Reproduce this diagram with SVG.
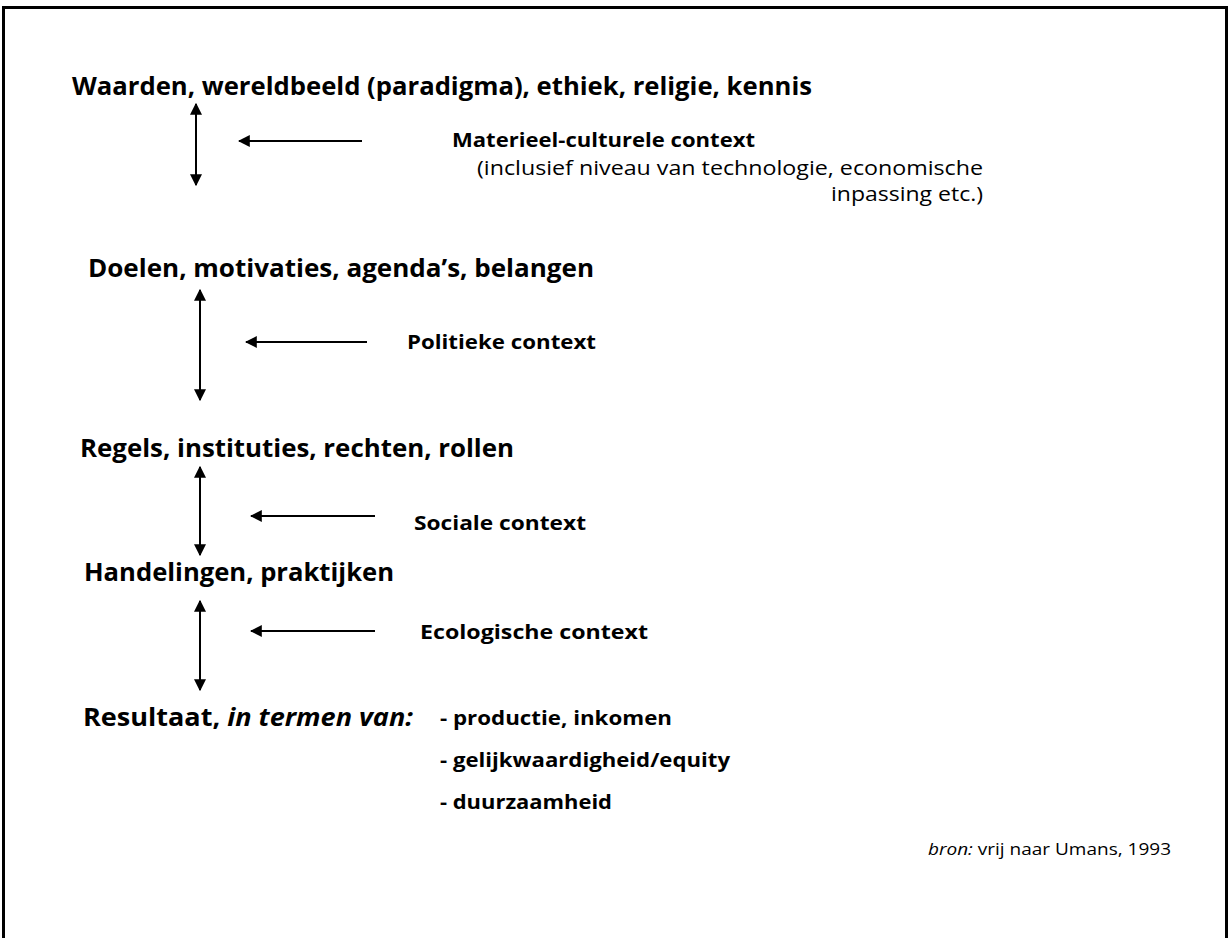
<svg xmlns="http://www.w3.org/2000/svg" width="1231" height="938" viewBox="0 0 1231 938">
<style>
text{font-family:"Open Sans","Noto Sans","Liberation Sans",sans-serif;fill:#000}
.h{font-size:25px;font-weight:bold}
.c{font-size:20px;font-weight:bold}
.n{font-size:20px}
.s{font-size:17px}
.ln{stroke:#000;stroke-width:2;fill:none}
</style>
<defs>
<marker id="ah" viewBox="0 0 10 10" refX="9" refY="5" markerWidth="6" markerHeight="6" orient="auto-start-reverse" markerUnits="strokeWidth">
<path d="M0,0 L10,5 L0,10 z" fill="#000"/>
</marker>
</defs>
<rect x="3.5" y="7.5" width="1223" height="940" fill="#fff" stroke="#000" stroke-width="3"/>

<g id="n-waarden"><text class="h" x="72" y="95" textLength="740" lengthAdjust="spacingAndGlyphs">Waarden, wereldbeeld (paradigma), ethiek, religie, kennis</text></g>
<g id="n-materieel">
<text class="c" x="452" y="147" textLength="303" lengthAdjust="spacingAndGlyphs">Materieel-culturele context</text>
<text class="n" x="477" y="175" textLength="506" lengthAdjust="spacingAndGlyphs">(inclusief niveau van technologie, economische</text>
<text class="n" x="831" y="201" textLength="152" lengthAdjust="spacingAndGlyphs">inpassing etc.)</text>
</g>
<g id="n-doelen"><text class="h" x="88" y="277" textLength="506" lengthAdjust="spacingAndGlyphs">Doelen, motivaties, agenda’s, belangen</text></g>
<g id="n-politiek"><text class="c" x="407" y="349" textLength="189" lengthAdjust="spacingAndGlyphs">Politieke context</text></g>
<g id="n-regels"><text class="h" x="80" y="457" textLength="434" lengthAdjust="spacingAndGlyphs">Regels, instituties, rechten, rollen</text></g>
<g id="n-sociaal"><text class="c" x="414" y="530" textLength="172" lengthAdjust="spacingAndGlyphs">Sociale context</text></g>
<g id="n-handelingen"><text class="h" x="84" y="581" textLength="310" lengthAdjust="spacingAndGlyphs">Handelingen, praktijken</text></g>
<g id="n-ecologisch"><text class="c" x="420" y="639" textLength="228" lengthAdjust="spacingAndGlyphs">Ecologische context</text></g>
<g id="n-resultaat">
<text class="h" x="83" y="726" textLength="330" lengthAdjust="spacingAndGlyphs">Resultaat, <tspan font-style="italic">in termen van:</tspan></text>
<text class="c" x="440" y="725" textLength="232" lengthAdjust="spacingAndGlyphs">- productie, inkomen</text>
<text class="c" x="440" y="767" textLength="290" lengthAdjust="spacingAndGlyphs">-  gelijkwaardigheid/equity</text>
<text class="c" x="440" y="809" textLength="172" lengthAdjust="spacingAndGlyphs">- duurzaamheid</text>
</g>
<g id="n-bron"><text class="s" x="928" y="855" textLength="243" lengthAdjust="spacingAndGlyphs"><tspan font-style="italic">bron:</tspan> vrij naar Umans, 1993</text></g>

<g id="connectors">
<line class="ln" x1="196" y1="104" x2="196" y2="185" marker-start="url(#ah)" marker-end="url(#ah)"/>
<line class="ln" x1="362" y1="141" x2="239" y2="141" marker-end="url(#ah)"/>
<line class="ln" x1="200" y1="290" x2="200" y2="400" marker-start="url(#ah)" marker-end="url(#ah)"/>
<line class="ln" x1="367" y1="342" x2="246" y2="342" marker-end="url(#ah)"/>
<line class="ln" x1="200" y1="467" x2="200" y2="555" marker-start="url(#ah)" marker-end="url(#ah)"/>
<line class="ln" x1="375" y1="516" x2="251" y2="516" marker-end="url(#ah)"/>
<line class="ln" x1="200" y1="601" x2="200" y2="690" marker-start="url(#ah)" marker-end="url(#ah)"/>
<line class="ln" x1="375" y1="631" x2="251" y2="631" marker-end="url(#ah)"/>
</g>
</svg>
